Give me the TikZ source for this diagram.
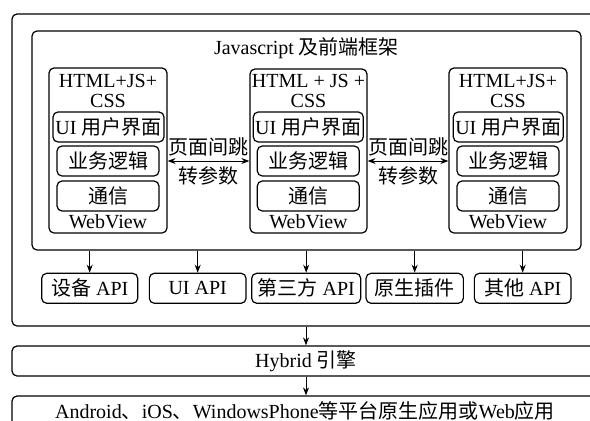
\documentclass[tikz,border=0pt]{standalone}
\usepackage{fontspec}
\setmainfont{Liberation Serif}
\newfontfamily\cjk{Noto Sans CJK SC}
\usetikzlibrary{arrows.meta}
\begin{document}
\begin{tikzpicture}[x=1pt,y=-1pt,
  every node/.style={font=\fontsize{20}{20}\selectfont, inner sep=0pt},
  box/.style={draw, rounded corners=5pt, line width=1.2pt, align=center},
  lbl/.style={align=center},
  arr/.style={-{Stealth[length=8pt,width=6pt]}, line width=1pt},
  biarr/.style={{Stealth[length=8pt,width=6pt]}-{Stealth[length=8pt,width=6pt]}, line width=1pt}]
\useasboundingbox (0,0) rectangle (590,421);
\clip (0,0) rectangle (590,421);

% outer frame, engine and platform layers
\node[box, minimum width=588pt, minimum height=312pt] (outer) at (306,170) {};
\node[box, minimum width=588pt, minimum height=30pt] (hyb) at (306,361) {Hybrid {\cjk 引擎}};
\node[box, minimum width=588pt, minimum height=36pt] (plat) at (306,414) {};
\node (plattxt) at (305,411) {Android{\cjk 、}iOS{\cjk 、}WindowsPhone{\cjk 等平台原生应用或}Web{\cjk 应用}};

% front-end frame
\node[box, minimum width=549pt, minimum height=219pt] (inner) at (306.5,140.5) {};
\node (title) at (306.5,48) {Javascript {\cjk 及前端框架}};

% WebView containers
\node[box, minimum width=118pt, minimum height=165pt] (w1) at (108,150.5) {};
\node[box, minimum width=117pt, minimum height=164pt] (w2) at (308.5,151) {};
\node[box, minimum width=118pt, minimum height=165pt] (w3) at (508,150.5) {};

\node[lbl] (h1) at (108,91) {HTML+JS+\\CSS};
\node[lbl] (h2) at (308.5,91) {HTML + JS +\\CSS};
\node[lbl] (h3) at (508,91) {HTML+JS+\\CSS};

\node[box, minimum width=111pt, minimum height=30pt] (ui1) at (108.5,127) {UI {\cjk 用户界面}};
\node[box, minimum width=110pt, minimum height=30pt] (ui2) at (308.3,127) {UI {\cjk 用户界面}};
\node[box, minimum width=110pt, minimum height=30pt] (ui3) at (508.3,127) {UI {\cjk 用户界面}};

\node[box, minimum width=102pt, minimum height=30pt] (bl1) at (108,161) {\cjk 业务逻辑};
\node[box, minimum width=102pt, minimum height=30pt] (bl2) at (308.3,161) {\cjk 业务逻辑};
\node[box, minimum width=102pt, minimum height=30pt] (bl3) at (508,161) {\cjk 业务逻辑};

\node[box, minimum width=102pt, minimum height=30pt] (cm1) at (108,196) {\cjk 通信};
\node[box, minimum width=102pt, minimum height=30pt] (cm2) at (308.3,196) {\cjk 通信};
\node[box, minimum width=102pt, minimum height=30pt] (cm3) at (508,196) {\cjk 通信};

\node (wv1) at (108,222) {WebView};
\node (wv2) at (308.5,222) {WebView};
\node (wv3) at (508,222) {WebView};

% page navigation with parameters
\draw[biarr] (w1.east |- bl1) -- (w2.west |- bl1);
\draw[biarr] (w2.east |- bl2) -- (w3.west |- bl2);
\node (j1a) at (208.5,147) {\cjk 页面间跳};
\node (j1b) at (208.5,176) {\cjk 转参数};
\node (j2a) at (408,147) {\cjk 页面间跳};
\node (j2b) at (408,176) {\cjk 转参数};

% native API layer
\node[box, minimum width=96pt, minimum height=30pt] (a1) at (89.7,288.3) {{\cjk 设备} API};
\node[box, minimum width=96.7pt, minimum height=30pt] (a2) at (197.7,288.3) {UI API};
\node[box, minimum width=109pt, minimum height=30pt] (a3) at (306.2,288.3) {{\cjk 第三方} API};
\node[box, minimum width=97.3pt, minimum height=30pt] (a4) at (414.7,288.3) {\cjk 原生插件};
\node[box, minimum width=96.7pt, minimum height=30pt] (a5) at (522.7,288.3) {{\cjk 其他} API};

\foreach \a in {a1,a2,a3,a4,a5}
  \draw[arr] (\a.north |- inner.south) -- (\a.north);

\draw[arr] (outer.south -| hyb.north) -- (hyb.north);
\draw[arr] (hyb.south) -- (plat.north);
\end{tikzpicture}
\end{document}
